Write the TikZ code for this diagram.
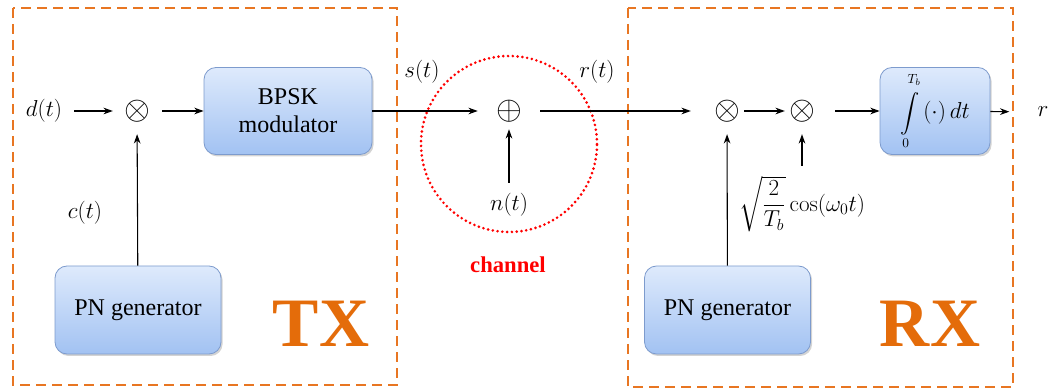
\documentclass[tikz,border=0pt]{standalone}
\usepackage{amsmath}
\usepackage[no-math]{fontspec}
\setmainfont{Liberation Serif}
\usetikzlibrary{arrows.meta,shadows}
\definecolor{dashor}{RGB}{232,118,34}
\definecolor{txor}{RGB}{228,108,10}
\definecolor{boxtop}{RGB}{222,234,252}
\definecolor{boxbot}{RGB}{162,194,242}
\definecolor{boxline}{RGB}{125,155,205}
\begin{document}
\begin{tikzpicture}[x=0.75pt,y=-0.75pt,
  arr/.style={-{Stealth[length=7pt,width=5pt]},line width=0.8pt},
  blk/.style={rounded corners=9pt, draw=boxline, line width=0.6pt, top color=boxtop, bottom color=boxbot,
    drop shadow={shadow xshift=1.2pt,shadow yshift=-1.5pt,opacity=0.35},
    align=center, font=\fontsize{18}{21}\selectfont, inner sep=0pt},
  op/.style={circle, minimum size=22.5pt, inner sep=0pt, font=\fontsize{25}{25}\selectfont},
  lab/.style={inner sep=0pt, font=\fontsize{17}{20}\selectfont},
  region/.style={draw=dashor, line width=2.2pt, dash pattern=on 7.5pt off 4.5pt},
  big/.style={text=txor, inner sep=0pt, font=\fontsize{52}{52}\bfseries\selectfont}]
\useasboundingbox (0,0) rectangle (1056,391);

% regions
\draw[region] (13,8) rectangle (397,385);
\draw[region] (628,8) rectangle (1013,387);
\draw[red, line width=2.2pt, dash pattern=on 0pt off 3.6pt, line cap=round] (509,144) circle (66pt);

% TX
\node[lab] (d) at (44,111) {$d(t)$};
\node[op] (m1) at (137,111) {$\otimes$};
\node[blk, minimum width=126pt, minimum height=65.25pt] (bpsk) at (288,111) {BPSK\\modulator};
\node[lab] (c) at (85,213) {$c(t)$};
\node[blk, minimum width=124.5pt, minimum height=66pt] (pn1) at (138,310) {PN generator};
\node[big] (tx) at (321,324) {TX};

% channel
\node[lab] (s) at (422,72) {$s(t)$};
\node[lab] (rt) at (597,72) {$r(t)$};
\node[minimum width=46.5pt, minimum height=27pt, inner sep=0pt, font=\fontsize{25}{25}\selectfont] (add) at (509,111) {$\oplus$};
\node[lab] (n) at (509,205) {$n(t)$};
\node[text=red, inner sep=0pt, font=\fontsize{17}{20}\bfseries\selectfont] (ch) at (508,265) {channel};

% RX
\node[op] (m3) at (727,111) {$\otimes$};
\node[op] (m4) at (802,111) {$\otimes$};
\node[lab] (cos) at (802,204) {$\sqrt{\dfrac{2}{T_b}}\cos(\omega_0 t)$};
\node[blk, minimum width=124.5pt, minimum height=66pt] (pn2) at (727.5,310) {PN generator};
\node[blk, minimum width=82.5pt, minimum height=65.25pt, font=\fontsize{14.5}{17}\selectfont] (integ) at (935,111) {$\displaystyle\int\limits_{\lower1pt\hbox{$\scriptstyle 0$}}^{\raise4pt\hbox{$\scriptstyle T_b$}}${\fontsize{17}{20}\selectfont$\,(\cdot)\,dt$}};
\node[lab] (r) at (1043,112) {$r$};
\node[big] (rx) at (930,324) {RX};

% connectors
\draw[arr, shorten <=9pt, shorten >=5.25pt] (d) -- (m1);
\draw[arr, shorten <=6pt] (m1) -- (bpsk);
\draw[arr, shorten >=4.5pt] (pn1) -- (m1);
\draw[arr] (bpsk) -- (add);
\draw[arr, shorten <=8pt] (n) -- (add);
\draw[arr, shorten >=14.25pt] (add) -- (m3);
\draw[arr] (m3) -- (m4);
\draw[arr, shorten <=7.5pt, shorten >=4.5pt] (cos) -- (m4);
\draw[arr, shorten >=4.5pt] (pn2) -- (m3);
\draw[arr, shorten <=12pt] (m4) -- (integ);
\draw[arr, shorten >=21pt] (integ) -- (r);
\end{tikzpicture}
\end{document}
